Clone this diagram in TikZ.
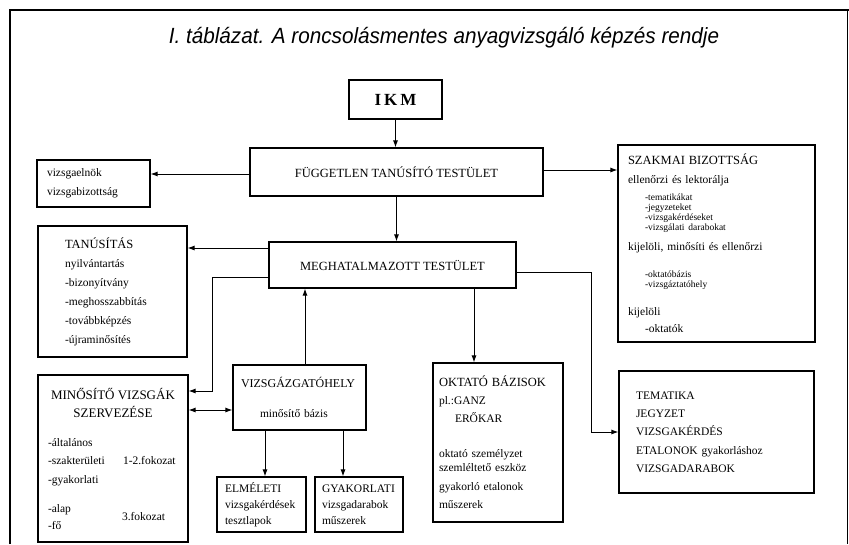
\documentclass[tikz,border=0pt]{standalone}
\usepackage{fontspec}
\setmainfont{Liberation Serif}
\newfontfamily\titlefont[FakeStretch=0.94]{Liberation Sans}
\usetikzlibrary{arrows.meta}
\newcommand\boxhead[1]{{\fontsize{12.5}{18}\selectfont #1}}
\newcommand\listline[1]{\hspace*{17pt}{\fontsize{9.5}{10}\selectfont #1}}
\begin{document}
\begin{tikzpicture}[
    x=1pt, y=-1pt,
    box/.style = {shape=rectangle, draw, line width=1.1pt, inner sep=0pt,
      align=center, font=\fontsize{12.5}{18}\selectfont},
    lbox/.style n args = {2}{box, align=left, inner xsep=#1, text width=#2,
      font=\fontsize{11.5}{18}\selectfont},
    arr/.style = {line width=1pt, -{Latex[length=7pt,width=5pt]}},
    arrtwo/.style = {line width=1pt, {Latex[length=7pt,width=5pt]}-{Latex[length=7pt,width=5pt]}}
    ]
    \useasboundingbox (0,0) rectangle (849,544);
    % frame
    \draw[line width=1.6pt] (10,544) -- (10,10) -- (849,10);
    \draw[line width=0.8pt] (847,10) -- (847,544);
    \node (title) at (444,38) {\titlefont\itshape\fontsize{22}{24}\selectfont
        I. táblázat. A roncsolásmentes anyagvizsgáló képzés rendje};

    % top chain
    \node[box, minimum width=93pt, minimum height=39pt,
        font=\bfseries\fontsize{17}{18}\selectfont] (ikm) at (395.5,99.5)
        {I\kern3pt K\kern3pt M};
    \node[box, minimum width=293pt, minimum height=48pt] (ftt) at (396.5,172)
        {FÜGGETLEN TANÚSÍTÓ TESTÜLET};
    \node[box, minimum width=247pt, minimum height=46pt] (mt) at (392.5,265)
        {MEGHATALMAZOTT TESTÜLET};

    % left column
    \node[lbox={10pt}{93pt}, minimum height=47pt,
        font=\fontsize{11.5}{19}\selectfont] (vb) at (93.5,183.5)
        {vizsgaelnök\\ vizsgabizottság};
    \node[lbox={27pt}{95pt}, minimum height=131pt,
        font=\fontsize{11.5}{19}\selectfont] (tan) at (112.5,291.5)
        {\boxhead{TANÚSÍTÁS}\\ nyilvántartás\\ -bizonyítvány\\
         -meghosszabbítás\\ -továbbképzés\\ -újraminősítés};
    \node[box, minimum width=150pt, minimum height=167pt,
        font=\fontsize{11.5}{18}\selectfont] (mvsz) at (113,458.5)
        {{\fontsize{13}{18}\selectfont MINŐSÍTŐ VIZSGÁK}\\
         {\fontsize{13}{18}\selectfont SZERVEZÉSE}\\[11pt]
         \makebox[130pt][l]{-általános}\\
         \makebox[130pt][l]{\makebox[75pt][l]{-szakterületi}1-2.fokozat}\\[1pt]
         \makebox[130pt][l]{-gyakorlati}\\[11pt]
         \makebox[130pt][l]{\makebox[74pt][l]{-alap}\raisebox{-8.5pt}[0pt][0pt]{3.fokozat}}\\[-1pt]
         \makebox[130pt][l]{-fő}};

    % middle
    \node[lbox={8pt}{117pt}, minimum height=65pt] (vh) at (299.5,397.5)
        {{\fontsize{12}{18}\selectfont VIZSGÁZGATÓHELY}\\[12pt]
         \hspace*{19pt}minősítő bázis};
    \node[lbox={8pt}{73pt}, minimum height=55pt,
        font=\fontsize{11.5}{16}\selectfont] (el) at (261.5,504.5)
        {ELMÉLETI\\ vizsgakérdések\\ tesztlapok};
    \node[lbox={7pt}{74pt}, minimum height=55pt,
        font=\fontsize{11.5}{16}\selectfont] (gy) at (359,504.5)
        {GYAKORLATI\\ vizsgadarabok\\ műszerek};
    \node[lbox={6pt}{118pt}, minimum height=159pt] (ob) at (498,442.5)
        {\boxhead{OKTATÓ BÁZISOK}\\ pl.:GANZ\\ \hspace*{16pt}ERŐKAR\\[17pt]
         oktató személyzet\\[-4pt] szemléltető eszköz\\[1pt]
         gyakorló etalonok\\ műszerek};

    % right column
    \node[lbox={10pt}{177pt}, minimum height=197pt,
        font=\fontsize{11.5}{12}\selectfont] (szb) at (716.5,243.5)
        {\boxhead{SZAKMAI BIZOTTSÁG}\\[7pt]
         ellenőrzi és lektorálja\\[5pt]
         \listline{-tematikákat}\\[-2pt]
         \listline{-jegyzeteket}\\[-2pt]
         \listline{-vizsgakérdéseket}\\[-2pt]
         \listline{-vizsgálati darabokat}\\[8pt]
         kijelöli, minősíti és ellenőrzi\\[15pt]
         \listline{-oktatóbázis}\\[-2pt]
         \listline{-vizsgáztatóhely}\\[16pt]
         kijelöli\\[5pt]
         \hspace*{17pt}-oktatók};
    \node[lbox={17pt}{161pt}, minimum height=122pt,
        font=\fontsize{11.5}{18.3}\selectfont] (tem) at (716.5,432)
        {TEMATIKA\\ JEGYZET\\ VIZSGAKÉRDÉS\\ ETALONOK gyakorláshoz\\ VIZSGADARABOK};

    % connectors
    \draw[arr] (ikm.south) -- (ikm.south |- ftt.north);
    \draw[arr] (ftt.south) -- (ftt.south |- mt.north);
    \draw[arr] ([yshift=-2pt]ftt.west) -- ([yshift=-2pt]ftt.west -| vb.east);
    \draw[arr] ([yshift=2pt]ftt.east) -- ([yshift=2pt]ftt.east -| szb.west);
    \draw[arr] ([yshift=17pt]mt.west) -- ([yshift=17pt]mt.west -| tan.east);
    \draw[arr] ([yshift=-12pt]mt.west) -- ++(-56pt,0) |- ([yshift=67.5pt]mvsz.east);
    \draw[arrtwo] ([yshift=-12.5pt]vh.west) -- ([yshift=-12.5pt]vh.west -| mvsz.east);
    \draw[arr] ([xshift=5.5pt]vh.north) -- ([xshift=5.5pt]vh.north |- mt.south);
    \draw[arr] ([xshift=81.5pt]mt.south) -- ([xshift=81.5pt]mt.south |- ob.north);
    \draw[arr] ([yshift=-7pt]mt.east) -| ([xshift=-27pt]tem.west) -- (tem.west);
    \draw[arr] ([xshift=-34.5pt]vh.south) -- ([xshift=-34.5pt]vh.south |- el.north);
    \draw[arr] ([xshift=43.5pt]vh.south) -- ([xshift=43.5pt]vh.south |- gy.north);
\end{tikzpicture}
\end{document}
